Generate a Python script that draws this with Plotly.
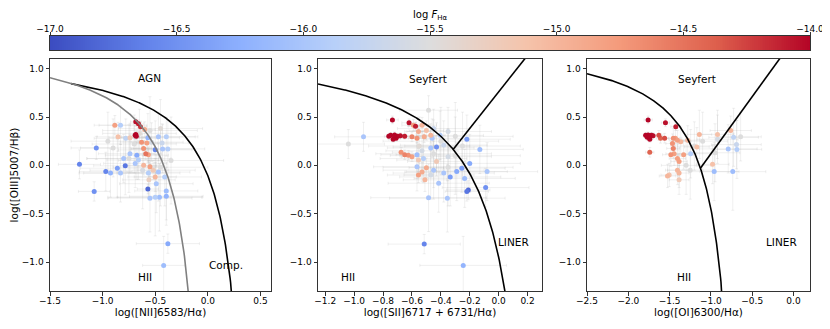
import numpy as np
import plotly.graph_objects as go

# ---- panel 1: [NII]/Ha ----
n2_x = [-0.685, -0.66, -0.64, -0.69, -0.68, -0.685, -0.884, -0.83, -0.60, -0.853, -0.78, -0.74, -0.63, -0.58,
        -0.57, -0.535, -0.47, -0.395, -0.435, -0.61, -0.59, -0.565, -0.50, -0.43, -0.38, -1.06, -0.675, -0.74,
        -0.80, -0.66, -1.22, -0.785, -0.86, -0.69, -0.61, -0.55, -0.52, -0.565, -0.47, -0.50, -0.97, -0.925,
        -0.83, -0.41, -0.56, -0.49, -0.57, -1.08, -0.395, -0.50, -0.55, -0.46, -0.395, -0.38, -0.42,
        -0.95, -0.70, -0.55, -0.45, -0.75, -0.62, -0.35, -0.90, -0.65, -0.45]
n2_y = [0.45, 0.43, 0.40, 0.31, 0.30, 0.32, 0.415, 0.415, 0.37, 0.295, 0.28, 0.285, 0.24, 0.23,
        0.285, 0.24, 0.295, 0.295, 0.23, 0.175, 0.12, 0.11, 0.16, 0.17, 0.17, 0.18, 0.105, 0.12,
        0.07, 0.055, 0.01, -0.005, -0.03, 0.02, 0.00, -0.015, -0.05, -0.08, -0.07, -0.12, -0.065, -0.08,
        -0.08, -0.12, -0.15, -0.19, -0.245, -0.27, -0.265, -0.33, -0.34, -0.33, -0.32, -0.81, -1.035,
        0.25, 0.22, 0.36, 0.38, 0.07, -0.05, 0.05, 0.18, 0.33, -0.02]
n2_f = [-14.05, -14.1, -14.2, -14.0, -14.0, -14.0, -14.8, -15.9, -14.9, -15.1, -15.8, -15.2, -14.7, -14.8,
        -16.2, -15.6, -16.0, -15.9, -15.7, -14.7, -14.5, -14.8, -16.6, -16.0, -15.9, -16.5, -16.3, -16.0,
        -16.0, -15.9, -16.6, -16.7, -16.4, -16.0, -15.0, -14.8, -15.2, -15.9, -16.0, -15.0, -16.6, -16.2,
        -16.0, -15.9, -15.3, -16.0, -16.8, -16.5, -16.1, -15.9, -16.0, -16.1, -16.2, -16.3, -16.1,
        -15.5, -15.5, -15.5, -15.45, -15.5, -15.55, -15.5, -15.5, -15.45, -15.5]
n2_ex = [0.05, 0.05, 0.06, 0.03, 0.03, 0.03, 0.15, 0.25, 0.10, 0.20, 0.30, 0.20, 0.10, 0.10,
         0.30, 0.30, 0.35, 0.30, 0.25, 0.10, 0.08, 0.10, 0.35, 0.30, 0.35, 0.15, 0.30, 0.30,
         0.35, 0.30, 0.20, 0.30, 0.35, 0.30, 0.15, 0.12, 0.15, 0.30, 0.30, 0.20, 0.25, 0.30,
         0.35, 0.35, 0.25, 0.35, 0.10, 0.15, 0.30, 0.45, 0.40, 0.40, 0.35, 0.30, 0.20,
         0.35, 0.40, 0.45, 0.40, 0.40, 0.50, 0.50, 0.40, 0.35, 0.45]
n2_ey = [0.04, 0.04, 0.05, 0.03, 0.03, 0.03, 0.10, 0.20, 0.08, 0.15, 0.20, 0.15, 0.08, 0.08,
         0.25, 0.20, 0.25, 0.20, 0.20, 0.08, 0.06, 0.08, 0.30, 0.25, 0.30, 0.12, 0.25, 0.20,
         0.25, 0.20, 0.15, 0.30, 0.30, 0.25, 0.10, 0.10, 0.10, 0.25, 0.30, 0.15, 0.20, 0.25,
         0.30, 0.30, 0.20, 0.30, 0.05, 0.10, 0.30, 0.40, 0.35, 0.35, 0.30, 0.10, 0.30,
         0.30, 0.30, 0.35, 0.30, 0.35, 0.40, 0.45, 0.30, 0.25, 0.40]

# ---- panel 2: [SII]/Ha ----
s2_x = [-0.735, -0.62, -0.575, -0.747, -0.72, -0.70, -0.68, -0.65, -0.73, -0.71, -0.76, -0.935, -1.04,
        -0.59, -0.53, -0.555, -0.60, -0.565, -0.50, -0.47, -0.515, -0.675, -0.65, -0.625, -0.60,
        -0.565, -0.53, -0.47, -0.43, -0.38, -0.46, -0.405, -0.35, -0.45, -0.555, -0.52, -0.43, -0.35,
        -0.565, -0.50, -0.45, -0.53, -0.555, -0.47, -0.38, -0.29, -0.255, -0.20, -0.51, -0.415, -0.335,
        -0.235, -0.21, -0.22, -0.485, -0.355, -0.22, -0.13, -0.08, -0.09, -0.515, -0.245,
        -0.485, -0.40, -0.30, -0.45, -0.35, -0.55, -0.25, -0.30]
s2_y = [0.47, 0.44, 0.405, 0.31, 0.315, 0.30, 0.305, 0.30, 0.27, 0.28, 0.30, 0.295, 0.22,
        0.415, 0.415, 0.35, 0.295, 0.28, 0.36, 0.31, 0.295, 0.135, 0.11, 0.105, 0.09,
        0.11, 0.15, 0.18, 0.19, 0.21, 0.28, 0.31, 0.35, 0.38, 0.055, 0.07, 0.04, 0.09,
        -0.015, -0.025, -0.05, -0.07, -0.10, -0.10, -0.08, -0.065, -0.03, 0.02, -0.15, -0.185, -0.12,
        -0.135, -0.255, -0.27, -0.335, -0.34, 0.27, 0.165, -0.065, -0.23, -0.815, -1.035,
        0.57, 0.25, 0.10, 0.12, -0.02, 0.20, 0.20, 0.30]
s2_f = [-14.0, -14.05, -14.1, -14.0, -14.0, -14.02, -14.05, -14.1, -14.0, -14.0, -14.0, -16.0, -15.5,
        -14.8, -15.0, -14.9, -14.6, -14.7, -15.1, -15.0, -14.9, -14.7, -14.6, -14.7, -14.8,
        -16.1, -15.6, -16.0, -16.5, -15.7, -16.0, -15.9, -15.6, -15.7, -15.2, -15.9, -15.2, -15.6,
        -16.0, -14.9, -16.0, -14.9, -14.8, -15.6, -16.0, -16.3, -16.4, -16.3, -15.0, -16.0, -16.4,
        -16.1, -16.8, -16.7, -16.0, -16.0, -16.4, -16.1, -16.0, -16.5, -16.6, -16.2,
        -15.5, -15.5, -15.5, -15.5, -15.5, -15.45, -15.5, -15.5]
s2_ex = [0.04, 0.05, 0.05, 0.03, 0.03, 0.03, 0.03, 0.04, 0.03, 0.03, 0.03, 0.20, 0.25,
         0.08, 0.10, 0.08, 0.06, 0.06, 0.12, 0.10, 0.08, 0.06, 0.06, 0.06, 0.07,
         0.25, 0.25, 0.30, 0.30, 0.30, 0.25, 0.30, 0.30, 0.25, 0.15, 0.30, 0.20, 0.30,
         0.30, 0.12, 0.35, 0.12, 0.10, 0.30, 0.35, 0.35, 0.30, 0.35, 0.15, 0.35, 0.35,
         0.35, 0.15, 0.15, 0.40, 0.40, 0.30, 0.30, 0.35, 0.30, 0.25, 0.30,
         0.20, 0.40, 0.45, 0.40, 0.45, 0.35, 0.40, 0.40]
s2_ey = [0.04, 0.04, 0.04, 0.03, 0.03, 0.03, 0.03, 0.03, 0.03, 0.03, 0.03, 0.15, 0.15,
         0.06, 0.08, 0.06, 0.05, 0.05, 0.10, 0.08, 0.06, 0.05, 0.05, 0.05, 0.05,
         0.25, 0.20, 0.25, 0.25, 0.25, 0.20, 0.25, 0.25, 0.20, 0.12, 0.25, 0.15, 0.25,
         0.25, 0.10, 0.30, 0.10, 0.08, 0.25, 0.30, 0.30, 0.25, 0.30, 0.12, 0.30, 0.30,
         0.30, 0.10, 0.10, 0.35, 0.35, 0.25, 0.25, 0.30, 0.20, 0.10, 0.30,
         0.15, 0.35, 0.40, 0.35, 0.40, 0.30, 0.35, 0.35]

# ---- panel 3: [OI]/Ha ----
o1_x = [-1.76, -1.55, -1.425, -1.79, -1.76, -1.74, -1.72, -1.70, -1.77, -1.74, -1.74, -1.63, -1.61, -1.56,
        -1.455, -1.43, -1.405, -1.465, -1.455, -1.365, -1.28, -1.14, -1.17, -1.485, -1.445, -1.405, -1.385,
        -1.245, -1.33, -1.405, -1.385, -1.505, -1.525, -1.385, -0.92, -0.92, -0.98, -0.96, -0.79, -0.76,
        -0.725, -0.69, -0.735, -0.64, -0.685, -1.30, -1.20, -1.10, -0.95, -1.25]
o1_y = [0.47, 0.44, 0.40, 0.31, 0.315, 0.30, 0.31, 0.305, 0.29, 0.27, 0.135, 0.31, 0.28, 0.28,
        0.28, 0.28, 0.26, 0.225, 0.175, 0.245, 0.26, 0.32, 0.19, 0.11, 0.12, 0.07, 0.04,
        0.12, 0.11, -0.05, -0.08, -0.10, -0.11, -0.15, 0.27, 0.32, 0.01, -0.065, 0.17, 0.36,
        0.29, 0.215, -0.065, 0.295, 0.165, 0.00, 0.20, 0.25, 0.13, -0.05]
o1_f = [-14.0, -14.05, -14.1, -14.0, -14.0, -14.0, -14.02, -14.05, -14.0, -14.0, -14.4, -14.3, -14.4, -14.3,
        -14.7, -14.8, -14.8, -14.7, -14.6, -15.0, -15.0, -15.0, -15.1, -14.7, -14.8, -14.8, -14.8,
        -15.9, -14.8, -15.0, -15.0, -15.1, -15.0, -15.2, -15.6, -15.1, -15.1, -16.1, -16.0, -15.0,
        -15.8, -15.7, -16.1, -15.5, -15.9, -15.5, -15.5, -15.5, -15.5, -15.5]
o1_ex = [0.05, 0.05, 0.06, 0.03, 0.03, 0.03, 0.03, 0.03, 0.03, 0.03, 0.05, 0.05, 0.05, 0.05,
         0.08, 0.08, 0.10, 0.08, 0.08, 0.12, 0.15, 0.15, 0.15, 0.10, 0.10, 0.10, 0.10,
         0.25, 0.12, 0.12, 0.12, 0.10, 0.10, 0.12, 0.25, 0.20, 0.20, 0.30, 0.35, 0.25,
         0.30, 0.30, 0.40, 0.25, 0.30, 0.30, 0.25, 0.30, 0.30, 0.30]
o1_ey = [0.04, 0.04, 0.04, 0.03, 0.03, 0.03, 0.03, 0.03, 0.03, 0.03, 0.05, 0.05, 0.05, 0.05,
         0.10, 0.10, 0.10, 0.10, 0.10, 0.15, 0.15, 0.25, 0.20, 0.12, 0.12, 0.15, 0.15,
         0.25, 0.15, 0.15, 0.15, 0.12, 0.12, 0.15, 0.25, 0.25, 0.20, 0.30, 0.25, 0.15,
         0.30, 0.25, 0.40, 0.25, 0.30, 0.30, 0.25, 0.30, 0.30, 0.30]

# colour scale and its ticks
cb_ticks = [-17.0, -16.5, -16.0, -15.5, -15.0, -14.5, -14.0]
coolwarm = [[0.0, "#3b4cc0"], [0.125, "#6282ea"], [0.25, "#8db0fe"], [0.375, "#b8d0f9"],
            [0.5, "#dddddd"], [0.625, "#f5c4ac"], [0.75, "#f49a7b"], [0.875, "#de604d"], [1.0, "#b40426"]]

FONT = "DejaVu Sans"
PAD = 8  # page body margin
W, H = 830 - PAD, 329 - PAD


def fx(p):
    return (p - PAD) / W


def fy(p):
    return 1 - (p - PAD) / H


fig = go.Figure()


def add_points(xs, ys, fs, exs, eys, ax):
    order = np.argsort(fs)
    xs, ys, fs = np.array(xs)[order], np.array(ys)[order], np.array(fs)[order]
    exs, eys = np.array(exs)[order], np.array(eys)[order]
    fig.add_trace(go.Scatter(
        x=xs, y=ys, mode="markers", xaxis="x" + ax, yaxis="y" + ax, showlegend=False,
        marker=dict(size=5, color=fs, colorscale=coolwarm, cmin=-17, cmax=-14, line=dict(width=0)),
        error_x=dict(type="data", array=exs, color="rgba(160,160,160,0.2)", thickness=0.8, width=1.5),
        error_y=dict(type="data", array=eys, color="rgba(160,160,160,0.2)", thickness=0.8, width=1.5)))


add_points(n2_x, n2_y, n2_f, n2_ex, n2_ey, "")
add_points(s2_x, s2_y, s2_f, s2_ex, s2_ey, "2")
add_points(o1_x, o1_y, o1_f, o1_ex, o1_ey, "3")

# demarcation lines (Kewley 2001, Kauffmann 2003, Kewley 2006)
x = np.linspace(-1.3, 0.469, 400)
y = 0.61 / (x - 0.47) + 1.19
fig.add_trace(go.Scatter(x=x, y=y, mode="lines", line=dict(color="black", width=1.6), showlegend=False))
x = np.linspace(-1.5, 0.049, 400)
y = 0.61 / (x - 0.05) + 1.3
fig.add_trace(go.Scatter(x=x, y=y, mode="lines", line=dict(color="grey", width=1.6), showlegend=False))

x = np.linspace(-1.25, 0.319, 400)
y = 0.72 / (x - 0.32) + 1.30
fig.add_trace(go.Scatter(x=x, y=y, mode="lines", line=dict(color="black", width=1.6),
                         xaxis="x2", yaxis="y2", showlegend=False))
x = np.array([-0.315, 0.3])
fig.add_trace(go.Scatter(x=x, y=1.89 * x + 0.76, mode="lines", line=dict(color="black", width=1.6),
                         xaxis="x2", yaxis="y2", showlegend=False))

x = np.linspace(-2.5, -0.591, 400)
y = 0.73 / (x + 0.59) + 1.33
fig.add_trace(go.Scatter(x=x, y=y, mode="lines", line=dict(color="black", width=1.6),
                         xaxis="x3", yaxis="y3", showlegend=False))
x = np.array([-1.127, 0.2])
fig.add_trace(go.Scatter(x=x, y=1.18 * x + 1.30, mode="lines", line=dict(color="black", width=1.6),
                         xaxis="x3", yaxis="y3", showlegend=False))

# colour bar drawn as a heat strip
grad = np.linspace(-17, -14, 400)
fig.add_trace(go.Heatmap(z=[grad], x=grad, y=[0], colorscale=coolwarm, zmin=-17, zmax=-14,
                         showscale=False, xaxis="x4", yaxis="y4", hoverinfo="skip"))

tickfont = dict(family=FONT, size=9, color="black")
titlefont = dict(family=FONT, size=10.5, color="black")
ydom = [fy(291), fy(59)]
common = dict(showgrid=False, zeroline=False, showline=True, mirror=True, linecolor="#333",
              linewidth=1, ticks="outside", ticklen=3.5, tickcolor="#333", tickfont=tickfont,
              tickformat=".1f", automargin=False)
xcommon = dict(common, ticklabelstandoff=-2)

fig.update_layout(
    width=W, height=H, margin=dict(l=0, r=0, t=0, b=0),
    plot_bgcolor="white", paper_bgcolor="white",
    xaxis=dict(domain=[fx(50), fx(271)], range=[-1.5, 0.6], tickvals=[-1.5, -1.0, -0.5, 0.0, 0.5],
               anchor="y", title=dict(text="log([NII]6583/Hα)", font=titlefont, standoff=2), **xcommon),
    yaxis=dict(domain=ydom, range=[-1.3, 1.1], tickvals=[-1.0, -0.5, 0.0, 0.5, 1.0], anchor="x",
               title=dict(text="log([OIII]5007/Hβ)", font=titlefont, standoff=6), **common),
    xaxis2=dict(domain=[fx(318), fx(542)], range=[-1.25, 0.3],
                tickvals=[-1.2, -1.0, -0.8, -0.6, -0.4, -0.2, 0.0, 0.2], anchor="y2",
                title=dict(text="log([SII]6717 + 6731/Hα)", font=titlefont, standoff=2), **xcommon),
    yaxis2=dict(domain=ydom, range=[-1.3, 1.1], tickvals=[-1.0, -0.5, 0.0, 0.5, 1.0], anchor="x2", **common),
    xaxis3=dict(domain=[fx(587), fx(810)], range=[-2.5, 0.2],
                tickvals=[-2.5, -2.0, -1.5, -1.0, -0.5, 0.0], anchor="y3",
                title=dict(text="log([OI]6300/Hα)", font=titlefont, standoff=2), **xcommon),
    yaxis3=dict(domain=ydom, range=[-1.3, 1.1], tickvals=[-1.0, -0.5, 0.0, 0.5, 1.0], anchor="x3", **common),
    xaxis4=dict(domain=[fx(50), fx(810)], range=[-17, -14], tickvals=cb_ticks, side="top", anchor="y4",
                **dict(common, ticklabelstandoff=-4)),
    yaxis4=dict(domain=[fy(50), fy(36)], range=[-0.5, 0.5], anchor="x4", showticklabels=False,
                showgrid=False, zeroline=False, showline=True, mirror=True, linecolor="#333", linewidth=1,
                automargin=False),
)

fig.add_annotation(text="log <i>F</i><sub>Hα</sub>", x=fx(430), y=fy(15), xref="paper", yref="paper",
                   showarrow=False, font=dict(family=FONT, size=10, color="black"), yanchor="middle")

labels = [("AGN", -0.55, 0.9, ""), ("HII", -0.6, -1.15, ""), ("Comp.", 0.17, -1.03, ""),
          ("Seyfert", -0.49, 0.89, "2"), ("LINER", 0.1, -0.79, "2"), ("HII", -1.04, -1.15, "2"),
          ("Seyfert", -1.17, 0.89, "3"), ("LINER", -0.14, -0.79, "3"), ("HII", -1.33, -1.15, "3")]
for txt, lx, ly, ax in labels:
    fig.add_annotation(text=txt, x=lx, y=ly, xref="x" + ax, yref="y" + ax, showarrow=False,
                       font=dict(family=FONT, size=10.5, color="black"))

fig.write_html("out.html")
